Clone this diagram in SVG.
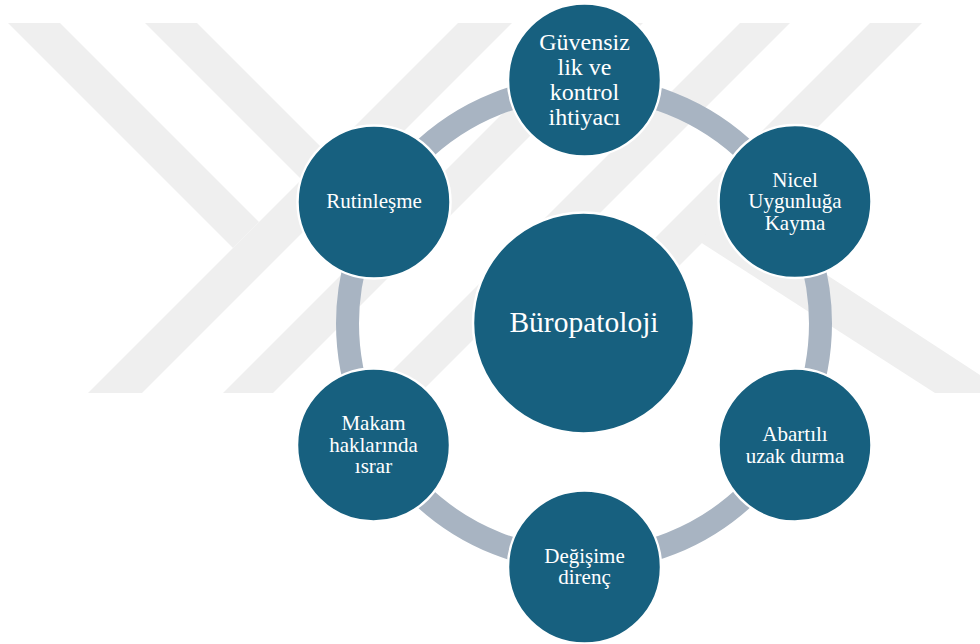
<svg xmlns="http://www.w3.org/2000/svg" width="980" height="644" viewBox="0 0 980 644">
  <style>
    .wm { fill: #efefef; }
    .ring { fill: none; stroke: #a8b4c2; stroke-width: 23; }
    .node { fill: #17607f; stroke: #ffffff; stroke-width: 2.5; }
    .lbl { font-family: "Liberation Serif", "Times New Roman", serif; fill: #ffffff; text-anchor: middle; }
    .s21 { font-size: 21px; }
    .s24 { font-size: 24px; }
    .s30 { font-size: 29.5px; }
  </style>
  <rect x="0" y="0" width="980" height="644" fill="#ffffff"/>
  <g id="watermark">
    <polygon class="wm" points="8,23 60,23 259,222 233,248"/>
    <polygon class="wm" points="88,393 142,393 512,23 458,23"/>
    <polygon class="wm" points="145,23 197,23 395,221 369,247"/>
    <polygon class="wm" points="223,393 273,393 643,23 593,23"/>
    <polygon class="wm" points="370,393 420,393 790,23 740,23"/>
    <polygon class="wm" points="500,393 552,393 922,23 870,23"/>
    <polygon class="wm" points="697,240 735,215 980,375 980,393 935,393"/>
  </g>
  <g id="connectors">
    <circle class="ring" cx="584" cy="323.5" r="236.5"/>
  </g>
  <g id="center">
    <circle class="node" cx="583.5" cy="323" r="110.5"/>
    <text class="lbl s30" x="584" y="331.7">Büropatoloji</text>
  </g>
  <g id="node-guvensizlik">
    <circle class="node" cx="584.5" cy="80" r="76.5"/>
    <text class="lbl s24" x="584.5" y="50">Güvensiz</text>
    <text class="lbl s24" x="584.5" y="75">lik ve</text>
    <text class="lbl s24" x="584.5" y="100">kontrol</text>
    <text class="lbl s24" x="584.5" y="125">ihtiyacı</text>
  </g>
  <g id="node-nicel">
    <circle class="node" cx="795" cy="201.5" r="76.5"/>
    <text class="lbl s21" x="795" y="186.7">Nicel</text>
    <text class="lbl s21" x="795" y="208.3">Uygunluğa</text>
    <text class="lbl s21" x="795" y="230">Kayma</text>
  </g>
  <g id="node-abartili">
    <circle class="node" cx="795" cy="445" r="76.5"/>
    <text class="lbl s21" x="795" y="441">Abartılı</text>
    <text class="lbl s21" x="795" y="462.5">uzak durma</text>
  </g>
  <g id="node-degisime">
    <circle class="node" cx="584.5" cy="567" r="76.5"/>
    <text class="lbl s21" x="584.5" y="562.7">Değişime</text>
    <text class="lbl s21" x="584.5" y="584">direnç</text>
  </g>
  <g id="node-makam">
    <circle class="node" cx="373.5" cy="445" r="76.5"/>
    <text class="lbl s21" x="373.5" y="430">Makam</text>
    <text class="lbl s21" x="373.5" y="451.7">haklarında</text>
    <text class="lbl s21" x="373.5" y="473.3">ısrar</text>
  </g>
  <g id="node-rutinlesme">
    <circle class="node" cx="374" cy="202" r="76.5"/>
    <text class="lbl s21" x="374" y="208.3">Rutinleşme</text>
  </g>
</svg>
